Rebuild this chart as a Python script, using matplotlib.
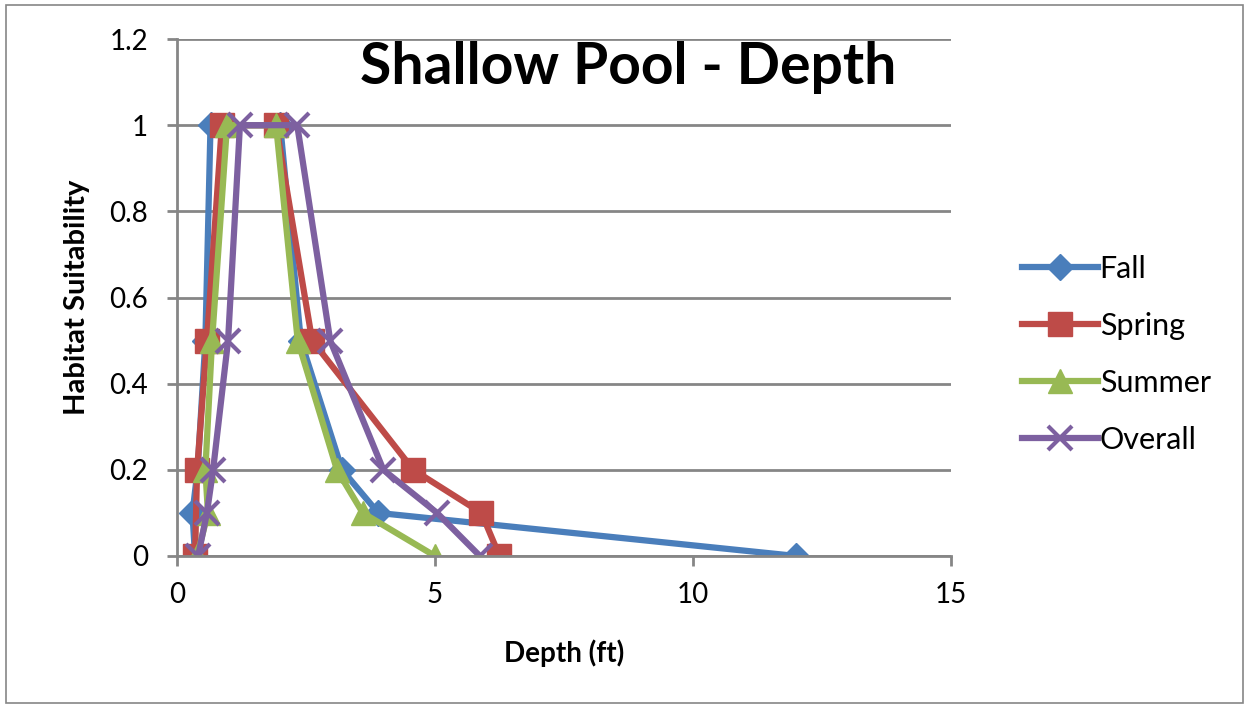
import matplotlib
matplotlib.use('Agg')
import matplotlib.pyplot as plt
from matplotlib.patches import Rectangle

plt.rcParams['font.family'] = ['Lato', 'DejaVu Sans']

# habitat suitability curves (depth in ft)
fall_x = [0.35, 0.3, 0.4, 0.55, 0.65, 2.0, 2.4, 3.2, 3.9, 12.0]
fall_y = [0, 0.1, 0.2, 0.5, 1, 1, 0.5, 0.2, 0.1, 0]
spring_x = [0.35, 0.39, 0.58, 0.87, 1.92, 2.62, 4.58, 5.9, 6.25]
spring_y = [0, 0.2, 0.5, 1, 1, 0.5, 0.2, 0.1, 0]
summer_x = [0.39, 0.6, 0.55, 0.68, 0.97, 1.92, 2.34, 3.1, 3.6, 5.0]
summer_y = [0, 0.1, 0.2, 0.5, 1, 1, 0.5, 0.2, 0.1, 0]
overall_x = [0.41, 0.58, 0.7, 0.99, 1.22, 2.33, 2.97, 4.0, 5.04, 5.87]
overall_y = [0, 0.1, 0.2, 0.5, 1, 1, 0.5, 0.2, 0.1, 0]

fig = plt.figure(figsize=(12.49, 7.08), dpi=100)
fig.patches.append(Rectangle((0.005, 0.007), 0.99, 0.986, transform=fig.transFigure,
                             fill=False, edgecolor='#868686', linewidth=1.2))
ax = fig.add_axes([0.1417, 0.2147, 0.6197, 0.7302])

ax.plot(fall_x, fall_y, color='#4A7EBB', lw=4.5, marker='D', ms=13, label='Fall')
ax.plot(spring_x, spring_y, color='#BE4B48', lw=4.5, marker='s', ms=17, label='Spring')
ax.plot(summer_x, summer_y, color='#98B954', lw=4.5, marker='^', ms=17, label='Summer')
ax.plot(overall_x, overall_y, color='#7D60A0', lw=4.5, marker='x', ms=17, mew=3, label='Overall')

ax.set_xlim(0, 15)
ax.set_ylim(0, 1.2)
ax.set_xticks([0, 5, 10, 15])
ax.set_yticks([0, 0.2, 0.4, 0.6, 0.8, 1, 1.2])
ax.set_yticklabels(['0', '0.2', '0.4', '0.6', '0.8', '1', '1.2'])
ax.grid(axis='y', color='#868686', lw=2)
ax.set_axisbelow(True)
for s in ['top', 'right']:
    ax.spines[s].set_visible(False)
for s in ['left', 'bottom']:
    ax.spines[s].set_color('#868686')
    ax.spines[s].set_linewidth(2)
ax.tick_params(colors='#868686', width=2, length=7, labelsize=20, labelcolor='black')
ax.tick_params(axis='y', pad=14)
ax.tick_params(axis='x', pad=12)

ax.set_xlabel('Depth (ft)', fontsize=20, fontweight='bold', labelpad=22)
ax.set_ylabel('Habitat Suitability', fontsize=21, fontweight='bold', labelpad=14)
ax.text(0.583, 0.945, 'Shallow Pool - Depth', transform=ax.transAxes, ha='center', va='center',
        fontsize=41, fontweight='bold')

ax.legend(loc='center left', bbox_to_anchor=(1.056, 0.39), frameon=False, fontsize=22,
          handlelength=2.5, labelspacing=0.95, handletextpad=0.05)

fig.savefig('out.png', dpi=100)
